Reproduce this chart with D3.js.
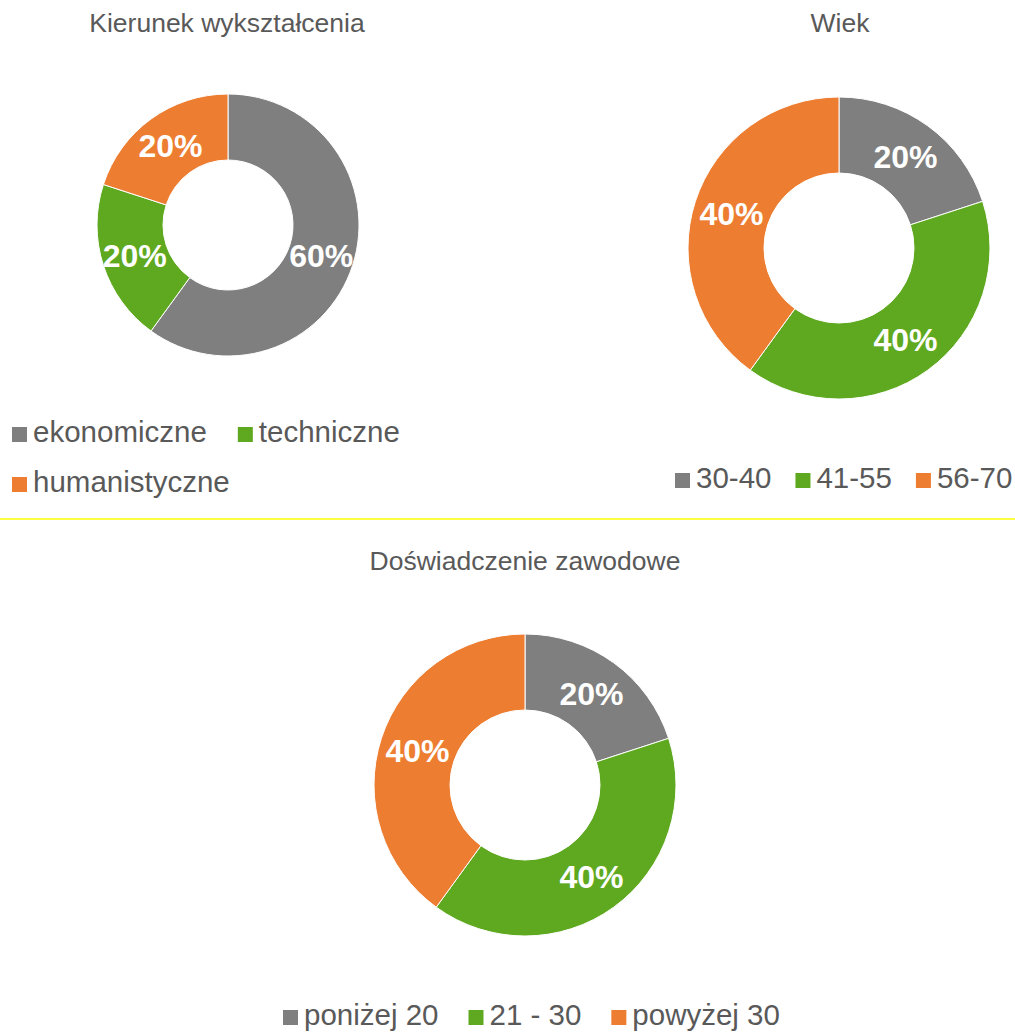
<!DOCTYPE html>
<html lang="pl">
<head>
<meta charset="utf-8">
<title>Donut charts</title>
<script src="https://d3js.org/d3.v7.min.js"></script>
<style>
  body { margin: 0; background: #fff; }
  svg text { font-family: "Liberation Sans", Arial, sans-serif; }
  .title { font-size: 26.5px; fill: #595959; }
  .legend { font-size: 29.5px; fill: #595959; }
  .pct { font-size: 32px; font-weight: bold; fill: #fff; }
</style>
</head>
<body>
<svg id="chart" width="1015" height="1032"></svg>
<script>
// data
const eduCats = ["ekonomiczne", "techniczne", "humanistyczne"];
const eduVals = [60, 20, 20];
const ageCats = ["30-40", "41-55", "56-70"];
const ageVals = [20, 40, 40];
const expCats = ["poniżej 20", "21 - 30", "powyżej 30"];
const expVals = [20, 40, 40];

const colors = ["#7f7f7f", "#5fa920", "#ed7d31"];

const svg = d3.select("#chart");

// divider between top and bottom rows
svg.append("line")
  .attr("x1", 0).attr("x2", 1015)
  .attr("y1", 519).attr("y2", 519)
  .attr("stroke", "#ffff00")
  .attr("stroke-width", 1.5);

const charts = [
  { title: "Kierunek wykształcenia", cats: eduCats, vals: eduVals,
    titleX: 227, titleY: 32, cx: 228, cy: 225, r: 131, r0: 65,
    legX: 12, legY: 442, legWrap: 420, rowH: 50, gap: 31 },
  { title: "Wiek", cats: ageCats, vals: ageVals,
    titleX: 840, titleY: 32, cx: 839, cy: 248, r: 151, r0: 75,
    legX: 675, legY: 488, legWrap: 1100, rowH: 50, gap: 24 },
  { title: "Doświadczenie zawodowe", cats: expCats, vals: expVals,
    titleX: 525, titleY: 570, cx: 525, cy: 785, r: 151, r0: 75,
    legX: 283, legY: 1025, legWrap: 1100, rowH: 50, gap: 30 }
];

const pie = d3.pie().sort(null).value(d => d);

charts.forEach(c => {
  svg.append("text")
    .attr("class", "title")
    .attr("x", c.titleX)
    .attr("y", c.titleY)
    .attr("text-anchor", "middle")
    .text(c.title);

  const g = svg.append("g").attr("transform", `translate(${c.cx},${c.cy})`);
  const arc = d3.arc().innerRadius(c.r0).outerRadius(c.r);
  const labelArc = d3.arc().innerRadius((c.r + c.r0) / 2).outerRadius((c.r + c.r0) / 2);
  const total = d3.sum(c.vals);
  const arcs = pie(c.vals);

  g.selectAll("path")
    .data(arcs)
    .join("path")
    .attr("d", arc)
    .attr("fill", (d, i) => colors[i])
    .attr("stroke", "#fff")
    .attr("stroke-width", 1);

  g.selectAll(".pct")
    .data(arcs)
    .join("text")
    .attr("class", "pct")
    .attr("transform", d => `translate(${labelArc.centroid(d)})`)
    .attr("text-anchor", "middle")
    .attr("dy", "0.36em")
    .text(d => Math.round(d.data / total * 100) + "%");

  // legend, flowing left to right
  const leg = svg.append("g");
  let x = c.legX, y = c.legY;
  c.cats.forEach((name, i) => {
    const item = leg.append("g");
    item.append("rect")
      .attr("x", x).attr("y", y - 15)
      .attr("width", 15).attr("height", 15)
      .attr("fill", colors[i]);
    const t = item.append("text")
      .attr("class", "legend")
      .attr("x", x + 21).attr("y", y)
      .text(name);
    const w = t.node().getComputedTextLength();
    let next = x + 21 + w + c.gap;
    // wrap to next row when the following item won't fit
    if (i + 1 < c.cats.length) {
      const tmp = svg.append("text").attr("class", "legend").text(c.cats[i + 1]);
      const nw = tmp.node().getComputedTextLength();
      tmp.remove();
      if (next + 21 + nw > c.legWrap) { next = c.legX; y += c.rowH; }
    }
    x = next;
  });
});
</script>
</body>
</html>
